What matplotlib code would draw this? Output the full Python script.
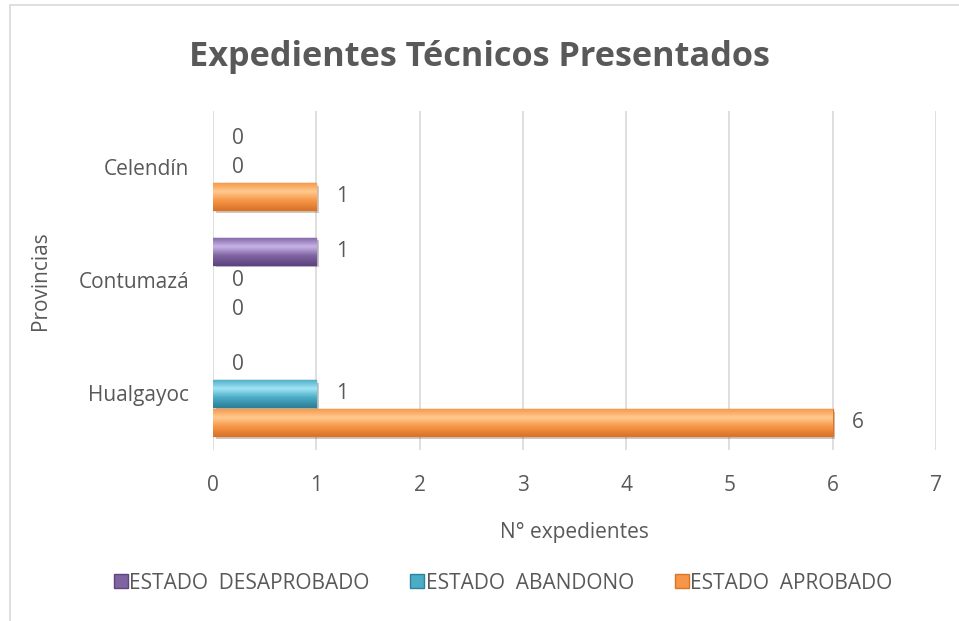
import matplotlib.pyplot as plt
import numpy as np
from matplotlib.colors import LinearSegmentedColormap
from matplotlib.patches import Rectangle
from matplotlib.lines import Line2D
import matplotlib.patheffects as pe

provincias = ['Hualgayoc', 'Contumazá', 'Celendín']
series = ['ESTADO  DESAPROBADO', 'ESTADO  ABANDONO', 'ESTADO  APROBADO']
desaprobado = [0, 1, 0]
abandono = [1, 0, 0]
aprobado = [6, 0, 1]
valores = [desaprobado, abandono, aprobado]

colores = ['#8064A2', '#4BACC6', '#F79646']
claros = ['#C8B3E8', '#9FE4F5', '#FFC98F']
oscuros = ['#5E4580', '#2E8199', '#D9742B']
gris = '#595959'

plt.rcParams['font.family'] = ['Open Sans', 'DejaVu Sans']

fig = plt.figure(figsize=(9.59, 6.21), dpi=100)
ax = fig.add_axes([0.2221, 0.2754, 0.7539, 0.5459])

# marco del grafico
fig.patches.append(Rectangle((10 / 959, -0.05), 1.2, 1.0 - 5 / 621 + 0.05,
                             transform=fig.transFigure, fill=False,
                             edgecolor='#D9D9D9', linewidth=1.2))

y = np.arange(len(provincias))
desfase = [0.26, 0.0, -0.26]
alto = 0.24
sombra = [pe.SimplePatchShadow(offset=(2, -2), alpha=0.25), pe.Normal()]

for k in range(3):
    cmap = LinearSegmentedColormap.from_list('g', [oscuros[k], colores[k], claros[k], colores[k]])
    anchos = [1 if v > 0 else 0 for v in valores[k]]
    barras = ax.barh(y + desfase[k], valores[k], height=alto, color=colores[k],
                     edgecolor=oscuros[k], linewidth=anchos, zorder=3)
    for b, v in zip(barras, valores[k]):
        if v > 0:
            b.set_path_effects(sombra)
            grad = np.linspace(0, 1, 64).reshape(-1, 1)
            im = ax.imshow(grad, cmap=cmap, aspect='auto', origin='lower',
                           extent=(b.get_x(), b.get_x() + b.get_width(),
                                   b.get_y(), b.get_y() + b.get_height()),
                           zorder=3.5)
            im.set_clip_path(b)
        ax.annotate(str(v), (v, b.get_y() + b.get_height() / 2),
                    xytext=(14, 0), textcoords='offset points',
                    ha='left', va='center', fontsize=15, color=gris, zorder=5)

ax.set_xlim(0, 7)
ax.set_ylim(-0.5, 2.5)
ax.set_xticks(range(8))
ax.set_yticks(y)
ax.set_yticklabels(provincias)
ax.grid(axis='x', color='#D9D9D9', linewidth=1.2, zorder=0)
ax.set_axisbelow(True)
for s in ax.spines.values():
    s.set_visible(False)
ax.tick_params(length=0, labelsize=15, labelcolor=gris)
ax.tick_params(axis='x', pad=18)
ax.tick_params(axis='y', pad=17)

fig.text(0.5, 1 - 57 / 621, 'Expedientes Técnicos Presentados', fontsize=24.7,
         fontweight='bold', color=gris, ha='center', va='center')
ax.set_xlabel('N° expedientes', fontsize=15, color=gris, labelpad=19)
ax.set_ylabel('Provincias', fontsize=15, color=gris, labelpad=20)

handles = [Line2D([], [], marker='s', linestyle='', markersize=10,
                  markerfacecolor=colores[k], markeredgecolor=oscuros[k])
           for k in range(3)]
fig.legend(handles, series, loc='center', bbox_to_anchor=(0.524, 0.061), ncol=3,
           frameon=False, fontsize=15, labelcolor=gris, handletextpad=0.0,
           columnspacing=1.9, handlelength=0.8)

fig.savefig('out.png', dpi=100)
